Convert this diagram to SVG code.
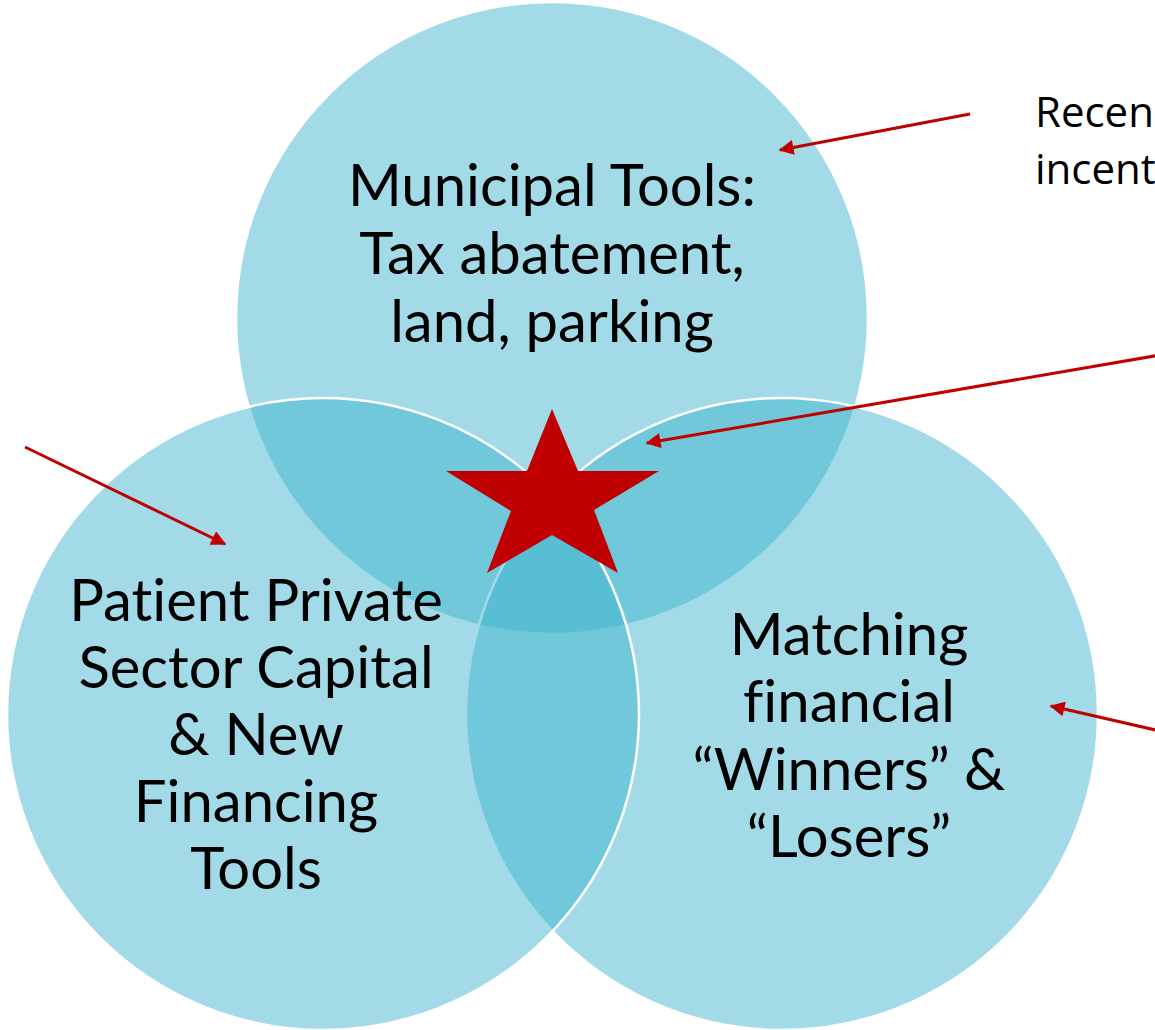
<svg xmlns="http://www.w3.org/2000/svg" width="1155" height="1030" viewBox="0 0 1155 1030">
  <defs>
    <style>
      .ring { fill: #3CB4CC; fill-opacity: 0.48; stroke: #FFFFFF; stroke-width: 2.5; }
      .big { font-family: Lato, "Open Sans", sans-serif; font-size: 58px; fill: #000000; text-anchor: middle; font-variant-ligatures: none; }
      .side { font-family: "Open Sans", "Noto Sans", sans-serif; font-size: 42px; fill: #000000; }
      .link { stroke: #C00000; stroke-width: 3; fill: none; marker-end: url(#head); }
    </style>
    <marker id="head" viewBox="0 0 10 10" refX="9" refY="5" markerWidth="6" markerHeight="5" markerUnits="strokeWidth" orient="auto">
      <path d="M0,0 L10,5 L0,10 z" fill="#C00000"/>
    </marker>
  </defs>
  <rect width="1155" height="1030" fill="#FFFFFF"/>

  <g id="municipal-tools">
    <circle class="ring" cx="552" cy="318" r="316"/>
    <text class="big"><tspan x="552" y="206">Municipal Tools:</tspan><tspan x="552" y="274">Tax abatement,</tspan><tspan x="552" y="342">land, parking</tspan></text>
  </g>

  <g id="matching-financial">
    <circle class="ring" cx="782" cy="714" r="316"/>
    <text class="big"><tspan x="849" y="655">Matching</tspan><tspan x="849" y="722">financial</tspan><tspan x="849" y="790">“Winners” &amp;</tspan><tspan x="849" y="857">“Losers”</tspan></text>
  </g>

  <g id="private-capital">
    <circle class="ring" cx="323" cy="714" r="316"/>
    <text class="big"><tspan x="256" y="621">Patient Private</tspan><tspan x="256" y="688">Sector Capital</tspan><tspan x="256" y="755">&amp; New</tspan><tspan x="256" y="822">Financing</tspan><tspan x="256" y="889">Tools</tspan></text>
  </g>

  <g id="center-star">
    <polygon fill="#C00000" points="552,409 578,471 659,471 594,510 618,573 552,535 487,573 511,511 446,471 527,471"/>
  </g>

  <g id="side-note">
    <text class="side"><tspan x="1035" y="127">Recen</tspan><tspan x="1035" y="184">incent</tspan></text>
  </g>

  <g id="connectors">
    <line class="link" x1="970" y1="114" x2="780" y2="150"/>
    <line class="link" x1="1160" y1="355" x2="647" y2="443"/>
    <line class="link" x1="25" y1="447" x2="225" y2="544"/>
    <line class="link" x1="1160" y1="731" x2="1051" y2="706"/>
  </g>
</svg>
